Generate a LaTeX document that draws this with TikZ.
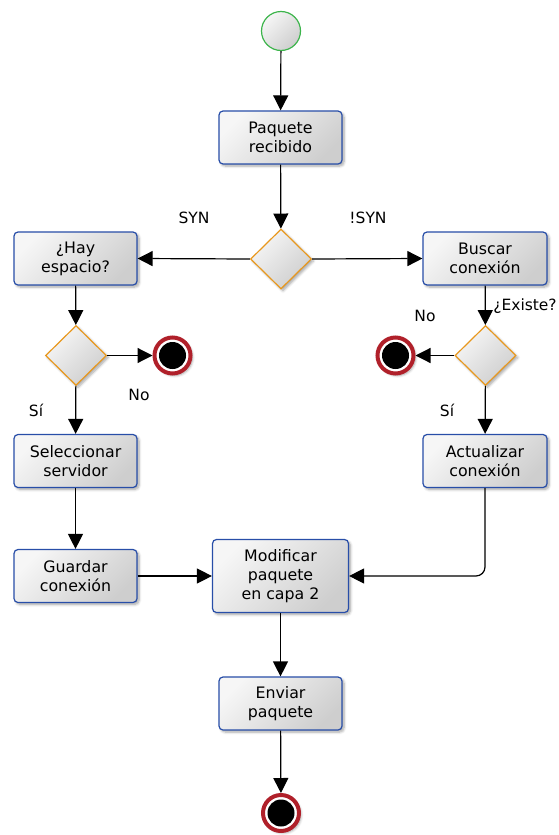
\documentclass[tikz,border=0pt]{standalone}
\usepackage{fontspec}
\setmainfont{DejaVu Sans}
\usetikzlibrary{arrows.meta,shapes.geometric,shadows.blur}

\definecolor{actblue}{RGB}{40,78,168}
\definecolor{decorange}{RGB}{232,152,30}
\definecolor{startgreen}{RGB}{60,180,75}
\definecolor{endred}{RGB}{176,32,42}
\definecolor{fillhi}{RGB}{246,246,246}
\definecolor{filllo}{RGB}{206,206,206}

\tikzset{
  grad/.style={top color=fillhi, bottom color=filllo, shading angle=45},
  softshadow/.style={blur shadow={shadow xshift=2pt, shadow yshift=-2pt,
      shadow blur radius=2.5pt, shadow blur steps=6, shadow opacity=35}},
  action/.style={rectangle, rounded corners=4pt, draw=actblue, line width=1.2pt,
      grad, softshadow, align=center, inner sep=0pt,
      minimum width=123pt, minimum height=53pt,
      font=\fontsize{15.8}{19}\selectfont},
  decision/.style={diamond, draw=decorange, line width=1.2pt, grad, softshadow,
      inner sep=0pt, minimum width=61pt, minimum height=60pt},
  startnode/.style={circle, draw=startgreen, line width=1.2pt, grad,
      inner sep=0pt, minimum size=39pt},
  endnode/.style={circle, draw=endred, fill=white, line width=4pt, softshadow,
      inner sep=0pt, minimum size=36pt},
  flow/.style={draw=black, line width=1.2pt,
      -{Triangle[length=15pt,width=15pt]}},
  lbl/.style={font=\fontsize{15.5}{18}\selectfont, inner sep=0pt}
}

\begin{document}
\begin{tikzpicture}[x=1pt,y=-1pt]
  \useasboundingbox (0,0) rectangle (559,835);

  % start and action nodes
  \node[startnode] (start) at (281,31) {};
  \node[action] (recv) at (280.5,137.5) {Paquete\\recibido};
  \node[decision] (dsyn) at (281,259) {};
  \node[action] (hay) at (75.5,258.5) {¿Hay\\espacio?};
  \node[action, minimum width=124pt] (busc) at (485,258.5) {Buscar\\conexión};
  \node[decision] (dhay) at (76,355.5) {};
  \node[decision] (dexi) at (485.5,355.5) {};
  \node[endnode] (endl) at (172.5,355.5) {};
  \node[endnode] (endr) at (395.5,355.5) {};
  \fill (endl.center) circle (13.5);
  \fill (endr.center) circle (13.5);
  \node[action] (sel) at (75.5,461) {Seleccionar\\servidor};
  \node[action, minimum width=124pt] (act) at (485,461) {Actualizar\\conexión};
  \node[action] (guard) at (75.5,576) {Guardar\\conexión};
  \node[action, minimum width=136pt, minimum height=73pt] (mod) at (280.5,576) {Modificar\\paquete\\en capa 2};
  \node[action] (env) at (280.5,703.5) {Enviar\\paquete};
  \node[endnode] (endb) at (281,813) {};
  \fill (endb.center) circle (13.5);

  % connectors
  \draw[flow] (start) -- (recv);
  \draw[flow] (recv) -- (dsyn);
  \draw[flow] (dsyn.west) -- (hay.east);
  \draw[flow] (dsyn.east) -- (busc.west);
  \draw[flow] (hay) -- (dhay);
  \draw[flow] (dhay.east) -- (endl.west);
  \draw[flow] (dhay) -- (sel);
  \draw[flow] (busc) -- (dexi);
  \draw[flow] (dexi.west) -- (endr.east);
  \draw[flow] (dexi) -- (act);
  \draw[flow] (sel) -- (guard);
  \draw[flow] (guard.east) -- (mod.west);
  \draw[flow, rounded corners=9pt] (act.south) |- (mod.east);
  \draw[flow] (mod) -- (env);
  \draw[flow] (env) -- (endb);

  % guard labels
  \node[lbl] (tsyn) at (194,218) {SYN};
  \node[lbl] (tnsyn) at (368,218) {!SYN};
  \node[lbl] (tnol) at (139,395) {No};
  \node[lbl] (tsil) at (36,410) {Sí};
  \node[lbl] (texi) at (525,306) {¿Existe?};
  \node[lbl] (tnor) at (425,316) {No};
  \node[lbl] (tsir) at (447,410) {Sí};
\end{tikzpicture}
\end{document}
